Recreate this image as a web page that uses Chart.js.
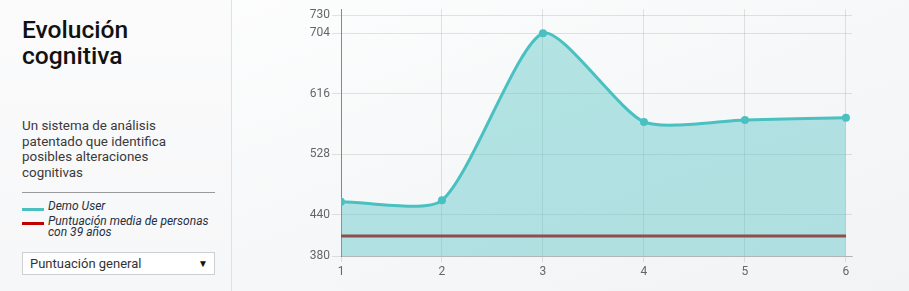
<!DOCTYPE html>
<html>
<head>
<meta charset="utf-8">
<script src="https://cdn.jsdelivr.net/npm/chart.js@4"></script>
<style>
  html, body { margin: 0; padding: 0; }
  body {
    width: 909px; height: 291px; overflow: hidden; position: relative;
    font-family: Roboto, sans-serif;
    background: linear-gradient(160deg, #ffffff 0%, #f5f7f8 60%, #f1f3f4 100%);
  }
  #panel {
    position: absolute; left: 0; top: 0; width: 231px; height: 291px;
    border-right: 1px solid #dfe1e2;
    background: linear-gradient(180deg, #fbfbfc 0%, #f6f7f8 100%);
  }
  #panel h1 {
    position: absolute; left: 22px; top: 17px; margin: 0;
    font-size: 24.6px; line-height: 26px; font-weight: 500; color: #111;
  }
  #panel p {
    position: absolute; left: 22px; top: 118px; margin: 0; width: 205px;
    font-size: 13.4px; line-height: 15.5px; color: #3a3a3a;
  }
  #panel hr {
    position: absolute; left: 22px; top: 192px; width: 193px; margin: 0;
    border: 0; border-top: 1px solid #9a9a9a;
  }
  .leg { position: absolute; left: 22px; font-size: 12px; line-height: 11px; font-style: italic; color: #263040; }
  .leg i { position: absolute; left: 0; width: 22px; height: 3px; }
  .leg span { position: absolute; left: 26px; top: 0; white-space: nowrap; }
  #select {
    position: absolute; left: 22px; top: 252px; width: 191px; height: 21px;
    border: 1px solid #cfcfcf; background: #fff;
    font-size: 13px; line-height: 21px; color: #333;
  }
  #select span { position: absolute; left: 7px; }
  #select b { position: absolute; right: 6px; font-size: 10px; font-weight: normal; color: #111; }
  #wrap { position: absolute; left: 232px; top: 0; width: 677px; height: 291px; }
</style>
</head>
<body>
<div id="panel">
  <h1>Evolución<br>cognitiva</h1>
  <p>Un sistema de análisis<br>patentado que identifica<br>posibles alteraciones<br>cognitivas</p>
  <hr>
  <div class="leg" style="top:201px"><i style="top:7px;background:#4bc0c0"></i><span>Demo User</span></div>
  <div class="leg" style="top:216px"><i style="top:6px;background:#c00000"></i><span>Puntuación media de personas<br>con 39 años</span></div>
  <div id="select"><span>Puntuación general</span><b>▼</b></div>
</div>
<div id="wrap"><canvas id="chart"></canvas></div>
<script>
const xValues = [1, 2, 3, 4, 5, 6];
const demoUser = [459, 461, 704, 575, 578, 581];
const averageScore = [409, 409, 409, 409, 409, 409];
const yTicks = [380, 440, 528, 616, 704, 730];

const toPoints = vals => vals.map((v, i) => ({ x: xValues[i], y: v }));

new Chart(document.getElementById('chart'), {
    type: 'line',
    data: {
        datasets: [{
            label: 'Demo User',
            data: toPoints(demoUser),
            borderColor: '#4bc0c0',
            backgroundColor: 'rgba(75, 192, 192, 0.4)',
            borderWidth: 3,
            pointRadius: 4,
            pointBackgroundColor: '#4bc0c0',
            pointBorderWidth: 0,
            tension: 0.22,
            fill: 'start'
        }, {
            label: 'Puntuación media de personas con 39 años',
            data: toPoints(averageScore),
            borderColor: '#c00000',
            borderWidth: 3,
            pointRadius: 0,
            fill: false
        }]
    },
    options: {
        responsive: true,
        maintainAspectRatio: false,
        animation: false,
        layout: { padding: { top: 9, right: 57, left: 0, bottom: 0 } },
        plugins: { legend: { display: false }, tooltip: { enabled: false } },
        scales: {
            x: {
                type: 'linear',
                min: 1,
                max: 6.06,
                afterBuildTicks: scale => { scale.ticks = xValues.map(v => ({ value: v })); },
                afterFit: scale => { scale.height = 35; },
                grid: { color: 'rgba(0,0,0,0.1)', tickLength: 6 },
                border: { color: 'rgba(0,0,0,0.18)' },
                ticks: { color: '#666', font: { family: 'Roboto', size: 12 }, padding: 3, maxRotation: 0 }
            },
            y: {
                min: 380,
                max: 739,
                afterBuildTicks: scale => { scale.ticks = yTicks.map(v => ({ value: v })); },
                afterFit: scale => { scale.width = 109; },
                grid: { color: 'rgba(0,0,0,0.1)', tickLength: 9 },
                border: { color: 'rgba(0,0,0,0.4)' },
                ticks: { color: '#666', font: { family: 'Roboto', size: 12 }, padding: 2 }
            }
        }
    }
});
</script>
</body>
</html>
